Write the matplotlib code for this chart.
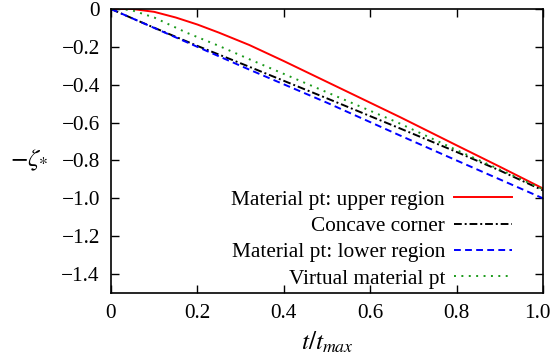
import matplotlib
matplotlib.use("Agg")
import matplotlib.pyplot as plt
import matplotlib.transforms as mtransforms
import numpy as np

# ---- data ----
t_upper = [0.0, 0.05, 0.10, 0.15, 0.20, 0.25, 0.32, 0.40, 0.50, 0.60, 0.67, 0.80, 0.90, 1.00]
z_upper = [0.0, 0.0, -0.015, -0.045, -0.082, -0.125, -0.19, -0.275, -0.385, -0.495, -0.572, -0.72, -0.833, -0.948]

t_corner = [0.0, 0.05, 0.10, 0.20, 0.32, 0.50, 0.664, 0.80, 0.90, 1.00]
z_corner = [0.0, -0.05, -0.099, -0.195, -0.305, -0.472, -0.626, -0.755, -0.853, -0.958]

t_lower = [0.0, 0.10, 0.20, 0.32, 0.50, 0.664, 0.80, 0.90, 1.00]
z_lower = [0.0, -0.10, -0.20, -0.32, -0.495, -0.663, -0.80, -0.90, -1.00]

t_virtual = [0.0, 0.03, 0.05, 0.10, 0.175, 0.25, 0.32, 0.50, 0.664, 0.80, 0.90, 1.00]
z_virtual = [0.0, -0.002, -0.008, -0.045, -0.125, -0.195, -0.265, -0.44, -0.60, -0.745, -0.848, -0.952]

labels = ["Material pt: upper region", "Concave corner",
          "Material pt: lower region", "Virtual material pt"]

xticks = [0.0, 0.2, 0.4, 0.6, 0.8, 1.0]
xticklabels = ["0", "0.2", "0.4", "0.6", "0.8", "1.0"]
yticks = [0.0, -0.2, -0.4, -0.6, -0.8, -1.0, -1.2, -1.4]
yticklabels = ["0", "\u22120.2", "\u22120.4", "\u22120.6", "\u22120.8", "\u22121.0", "\u22121.2", "\u22121.4"]

# ---- style ----
plt.rcParams["font.family"] = ["Liberation Serif", "DejaVu Serif"]
plt.rcParams["mathtext.fontset"] = "stix"
fs = 15.3

fig = plt.figure(figsize=(5.54, 3.63), dpi=100)
ax = fig.add_axes([111/554, 1-293/363, 432/554, 284/363])

lw = 1.4
ax.plot(t_upper, z_upper, color="#ff0000", lw=lw, ls="-", label=labels[0])
ax.plot(t_corner, z_corner, color="black", lw=lw, ls=(0, (4, 1.5, 1, 1.5)), label=labels[1])
ax.plot(t_lower, z_lower, color="#0000ff", lw=lw, ls=(0, (3.5, 2.2)), label=labels[2])
ax.plot(t_virtual, z_virtual, color="#1a9a1a", lw=lw, ls=(0, (1, 2.8)), label=labels[3])

ax.set_xlim(0, 1)
ax.set_ylim(-1.5, 0)
ax.set_xticks(xticks)
ax.set_xticklabels(xticklabels)
ax.set_yticks(yticks)
ax.set_yticklabels(yticklabels)
ax.tick_params(direction="in", top=True, right=True, length=6, width=1.0,
               labelsize=fs, pad=8)
for s in ax.spines.values():
    s.set_linewidth(1.2)

# keep the last x tick label inside the figure
last = ax.get_xticklabels()[-1]
last.set_transform(last.get_transform() +
                   mtransforms.ScaledTranslation(-6/100, 0, fig.dpi_scale_trans))

ax.set_xlabel(r"$t/t_{max}$", fontsize=fs + 3, va="center")
ax.xaxis.set_label_coords(0.5, (293-342)/284)
ax.set_ylabel(r"$-\zeta_{*}$", fontsize=fs + 3, rotation=0, ha="center", va="center")
ax.yaxis.set_label_coords((29-111)/432, (293-160)/284)

leg = ax.legend(loc="upper right", bbox_to_anchor=((512-111)/432, (293-190)/284),
                frameon=False, markerfirst=False, fontsize=fs,
                handlelength=2.75, handletextpad=0.4, labelspacing=0.3,
                borderpad=0, borderaxespad=0)
for txt in leg.get_texts():
    txt.set_ha("right")

fig.savefig("out.png", dpi=100)
